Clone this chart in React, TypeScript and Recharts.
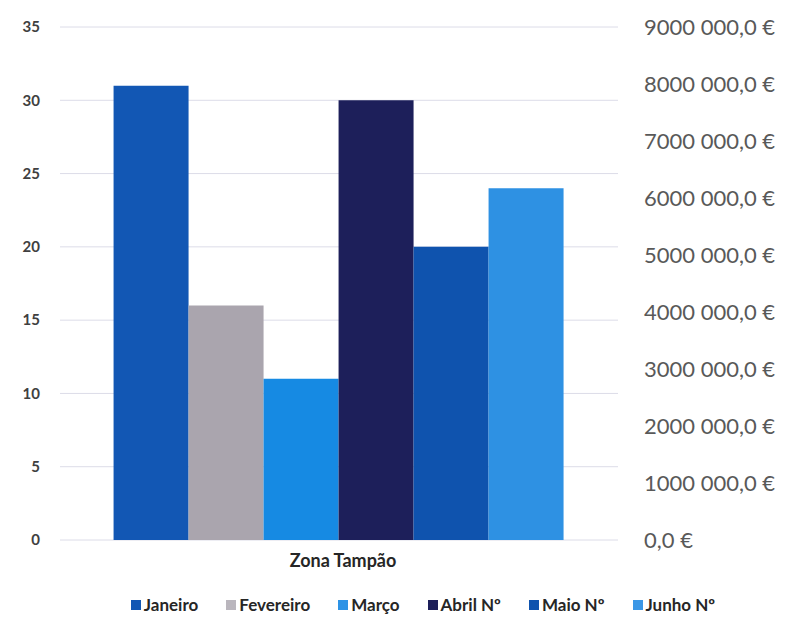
import { ComposedChart, Bar, Line, XAxis, YAxis, CartesianGrid, Legend } from "recharts";

const categories = ["Zona Tampão"];
const months = ["Janeiro", "Fevereiro", "Março", "Abril Nº", "Maio Nº", "Junho Nº"];
const monthValues = [31, 16, 11, 30, 20, 24];
const monthColors = ["#1257b4", "#aaa5ae", "#168ae3", "#1d1f5a", "#0f53ae", "#2e91e3"];
const legendColors = ["#1257b4", "#bab6bd", "#2d93e6", "#1d1f5a", "#0f53ae", "#3b97e6"];
const leftTicks = [0, 5, 10, 15, 20, 25, 30, 35];
const rightTicks = [0, 1000000, 2000000, 3000000, 4000000, 5000000, 6000000, 7000000, 8000000, 9000000];

const data = categories.map((name) => {
  const row: Record<string, string | number> = { name };
  months.forEach((m, i) => {
    row[m] = monthValues[i];
  });
  return row;
});

const euro = (v: number) => (v === 0 ? "0,0 €" : `${v / 1000} 000,0 €`);

function MonthLegend() {
  return (
    <div
      style={{
        display: "flex",
        justifyContent: "center",
        gap: 28,
        fontSize: 17,
        fontWeight: 700,
        color: "#262626",
        lineHeight: "20px",
        paddingLeft: 54,
      }}
    >
      {months.map((m, i) => (
        <span key={m} style={{ display: "flex", alignItems: "center", gap: 3 }}>
          <span style={{ width: 10, height: 10, background: legendColors[i], display: "inline-block" }} />
          {m}
        </span>
      ))}
    </div>
  );
}

export default function App() {
  return (
    <div style={{ position: "absolute", left: 0, top: 0, background: "#fff", fontFamily: "Lato, sans-serif" }}>
      <ComposedChart
        width={792}
        height={618}
        data={data}
        margin={{ top: 27, right: 0, bottom: 3, left: 0 }}
        barCategoryGap="9.6%"
        barGap={0}
      >
        <CartesianGrid vertical={false} stroke="#dcdce8" yAxisId="left" />
        <XAxis
          dataKey="name"
          height={55}
          axisLine={false}
          tickLine={false}
          tickSize={0}
          tickMargin={14}
          tick={{ fill: "#262626", fontSize: 18, fontWeight: 700, dx: 4 }}
        />
        <YAxis
          yAxisId="left"
          domain={[0, 35]}
          ticks={leftTicks}
          width={60}
          axisLine={false}
          tickLine={false}
          tickSize={0}
          tickMargin={20}
          tick={{ fill: "#404040", fontSize: 15, fontWeight: 700 }}
        />
        <YAxis
          yAxisId="right"
          orientation="right"
          domain={[0, 9000000]}
          allowDataOverflow
          ticks={rightTicks}
          width={174}
          axisLine={false}
          tickLine={false}
          tickSize={0}
          tickMargin={26}
          tickFormatter={euro}
          tick={{ fill: "#595959", fontSize: 22, textAnchor: "start" }}
        />
        <Legend verticalAlign="bottom" content={<MonthLegend />} />
        {months.map((m, i) => (
          <Bar key={m} yAxisId="left" dataKey={m} fill={monthColors[i]} isAnimationActive={false} />
        ))}
        <Line yAxisId="right" dataKey="valor" legendType="none" dot={false} activeDot={false} isAnimationActive={false} />
      </ComposedChart>
    </div>
  );
}
